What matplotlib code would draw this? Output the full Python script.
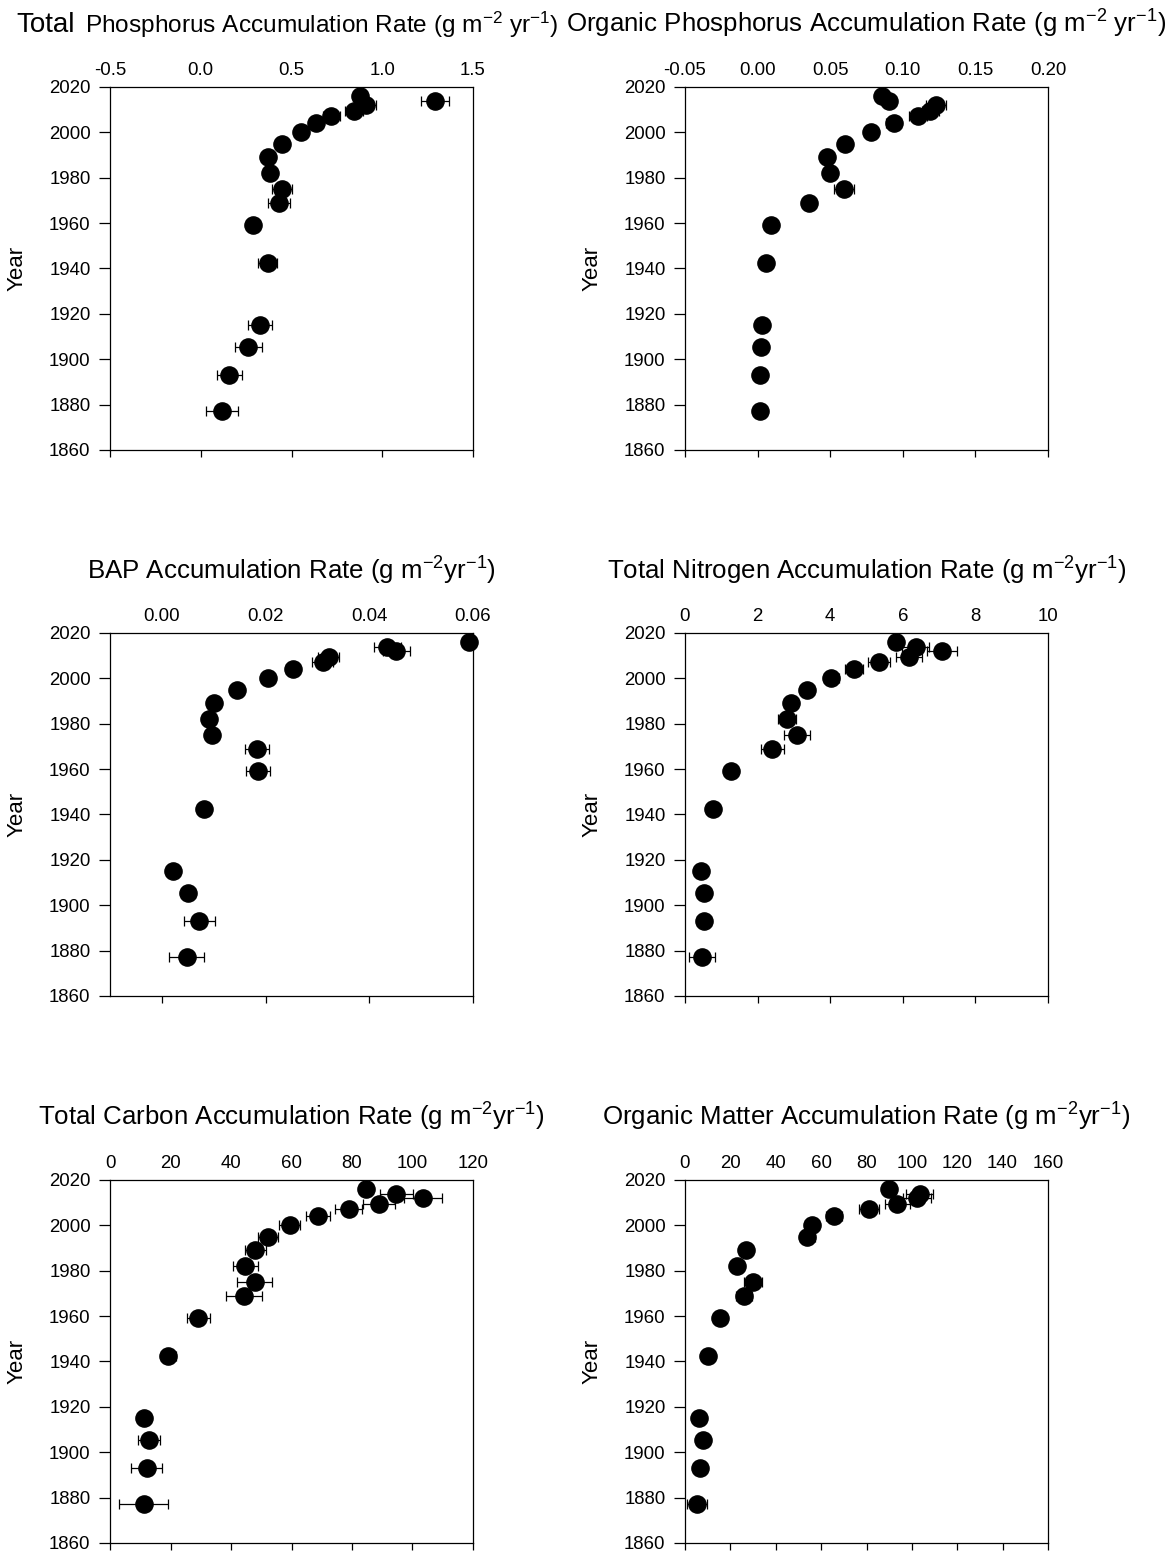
import matplotlib
matplotlib.use("Agg")
import matplotlib.pyplot as plt
from matplotlib.ticker import FixedLocator, FixedFormatter

plt.rcParams["font.family"] = ["Liberation Sans", "DejaVu Sans"]
plt.rcParams["mathtext.fontset"] = "custom"
plt.rcParams["mathtext.rm"] = "Liberation Sans"
plt.rcParams["mathtext.it"] = "Liberation Sans"
plt.rcParams["mathtext.bf"] = "Liberation Sans:bold"
plt.rcParams["mathtext.default"] = "regular"

# Core section dates (year) shared by all profiles
years = [2016, 2014, 2012, 2009.5, 2007, 2004, 2000, 1995, 1989, 1982,
         1975, 1969, 1959, 1942.5, 1915, 1905.5, 1893, 1877]

# Total phosphorus accumulation (g m-2 yr-1) and error
tp = [0.877, 1.29, 0.91, 0.844, 0.72, 0.633, 0.552, 0.446, 0.372, 0.382,
      0.448, 0.431, 0.29, 0.369, 0.327, 0.262, 0.158, 0.117]
tp_err = [0.02, 0.076, 0.055, 0.05, 0.045, 0.02, 0.02, 0.02, 0.02, 0.02,
          0.055, 0.058, 0.02, 0.052, 0.067, 0.073, 0.067, 0.087]

# Organic phosphorus accumulation
op = [0.086, 0.0906, 0.1227, 0.119, 0.1106, 0.0936, 0.078, 0.0603, 0.0477, 0.05,
      0.0596, 0.0351, 0.0092, 0.0057, 0.003, 0.0025, 0.0018, 0.0018]
op_err = [0.002, 0.005, 0.007, 0.006, 0.006, 0.005, 0.002, 0.002, 0.002, 0.002,
          0.007, 0.004, 0.001, 0.001, 0.001, 0.001, 0.001, 0.001]

# Bioavailable phosphorus accumulation
bap = [0.0592, 0.0435, 0.0452, 0.0322, 0.031, 0.0252, 0.0204, 0.0144, 0.0101, 0.0091,
       0.0097, 0.0183, 0.0185, 0.0081, 0.0021, 0.0051, 0.0072, 0.0048]
bap_err = [0.0012, 0.0026, 0.0026, 0.002, 0.002, 0.0012, 0.0005, 0.0005, 0.0005, 0.0005,
           0.0005, 0.0023, 0.0023, 0.0005, 0.0005, 0.0012, 0.003, 0.0034]

# Total nitrogen accumulation
tn = [5.82, 6.35, 7.08, 6.16, 5.34, 4.66, 4.03, 3.37, 2.91, 2.81,
      3.08, 2.41, 1.28, 0.77, 0.43, 0.51, 0.52, 0.46]
tn_err = [0.1, 0.36, 0.4, 0.36, 0.3, 0.25, 0.2, 0.17, 0.17, 0.26,
          0.36, 0.32, 0.1, 0.1, 0.1, 0.1, 0.2, 0.36]

# Total carbon accumulation
tc = [84.6, 94.6, 103.4, 89.0, 78.9, 68.7, 59.4, 52.2, 48.0, 44.7,
      47.8, 44.4, 29.2, 19.3, 11.4, 12.8, 12.1, 11.1]
tc_err = [1.5, 5.5, 6.2, 5.3, 4.5, 4.0, 3.5, 3.3, 3.5, 4.1,
          5.7, 5.9, 3.7, 2.5, 1.8, 3.7, 5.0, 8.0]

# Organic matter accumulation
om = [89.9, 103.4, 102.3, 93.6, 81.1, 65.7, 56.1, 53.9, 27.0, 23.1,
      30.0, 25.9, 15.6, 10.1, 6.2, 7.9, 6.5, 5.3]
om_err = [1.5, 6.0, 6.0, 5.5, 4.5, 3.5, 3.0, 3.2, 1.0, 1.0,
          3.8, 3.5, 1.0, 1.0, 1.0, 1.0, 1.0, 4.3]

unit_sp = r"(g m$^{-2}$ yr$^{-1}$)"
unit = r"(g m$^{-2}$yr$^{-1}$)"

panels = [
    dict(vals=tp, errs=tp_err, xlim=(-0.5, 1.5),
         ticks=[-0.5, 0.0, 0.5, 1.0, 1.5], fmt="{:.1f}", title=None),
    dict(vals=op, errs=op_err, xlim=(-0.05, 0.20),
         ticks=[-0.05, 0.0, 0.05, 0.10, 0.15, 0.20], fmt="{:.2f}",
         title="Organic Phosphorus Accumulation Rate " + unit_sp),
    dict(vals=bap, errs=bap_err, xlim=(-0.01, 0.06),
         ticks=[0.0, 0.02, 0.04, 0.06], fmt="{:.2f}",
         title="BAP Accumulation Rate " + unit),
    dict(vals=tn, errs=tn_err, xlim=(0, 10),
         ticks=[0, 2, 4, 6, 8, 10], fmt="{:.0f}",
         title="Total Nitrogen Accumulation Rate " + unit),
    dict(vals=tc, errs=tc_err, xlim=(0, 120),
         ticks=[0, 20, 40, 60, 80, 100, 120], fmt="{:.0f}",
         title="Total Carbon Accumulation Rate " + unit),
    dict(vals=om, errs=om_err, xlim=(0, 160),
         ticks=[0, 20, 40, 60, 80, 100, 120, 140, 160], fmt="{:.0f}",
         title="Organic Matter Accumulation Rate " + unit),
]

W, H = 1176, 1554
fig = plt.figure(figsize=(W / 100, H / 100), dpi=100)

col_left = [110, 685]
row_top = [87, 633, 1180]
size = 363
title_base = [33, 580, 1126]
title_fs = 18.6

for i, p in enumerate(panels):
    r, c = divmod(i, 2)
    x0 = col_left[c]
    y0 = row_top[r]
    ax = fig.add_axes([x0 / W, 1 - (y0 + size) / H, size / W, size / H])

    ax.errorbar(p["vals"], years, xerr=p["errs"], fmt="none", ecolor="black",
                elinewidth=0.9, capsize=3.8, capthick=0.9, zorder=2,
                clip_on=False)
    ax.plot(p["vals"], years, "o", color="black", ms=12.4, zorder=3,
            clip_on=False)

    ax.set_xlim(*p["xlim"])
    ax.set_ylim(1860, 2020)
    ax.xaxis.set_major_locator(FixedLocator(p["ticks"]))
    ax.xaxis.set_major_formatter(FixedFormatter([p["fmt"].format(t) for t in p["ticks"]]))
    ax.set_yticks(range(1860, 2021, 20))

    ax.tick_params(axis="x", which="both", direction="out", top=False, bottom=True,
                   labeltop=True, labelbottom=False, length=5, width=0.9,
                   pad=0.8, labelsize=13.4)
    ax.tick_params(axis="y", which="both", direction="out", left=True, right=False,
                   length=7.7, width=0.9, pad=6.3, labelsize=13.4)
    for s in ax.spines.values():
        s.set_linewidth(0.9)

    ax.set_ylabel("Year", fontsize=16)
    ax.yaxis.set_label_coords(-0.228, 0.5)

    cx = (x0 + size / 2) / W
    if p["title"] is not None:
        fig.text(cx, 1 - title_base[r] / H, p["title"], ha="center",
                 va="baseline", fontsize=title_fs)

# First title: the leading word is set slightly larger than the rest
fig.text(75 / W, 1 - 31.5 / H, "Total", ha="right", va="baseline", fontsize=20)
fig.text(85 / W, 1 - 33 / H, "Phosphorus Accumulation Rate " + unit_sp,
         ha="left", va="baseline", fontsize=17.6)

fig.savefig("out.png", dpi=100, facecolor="white")
